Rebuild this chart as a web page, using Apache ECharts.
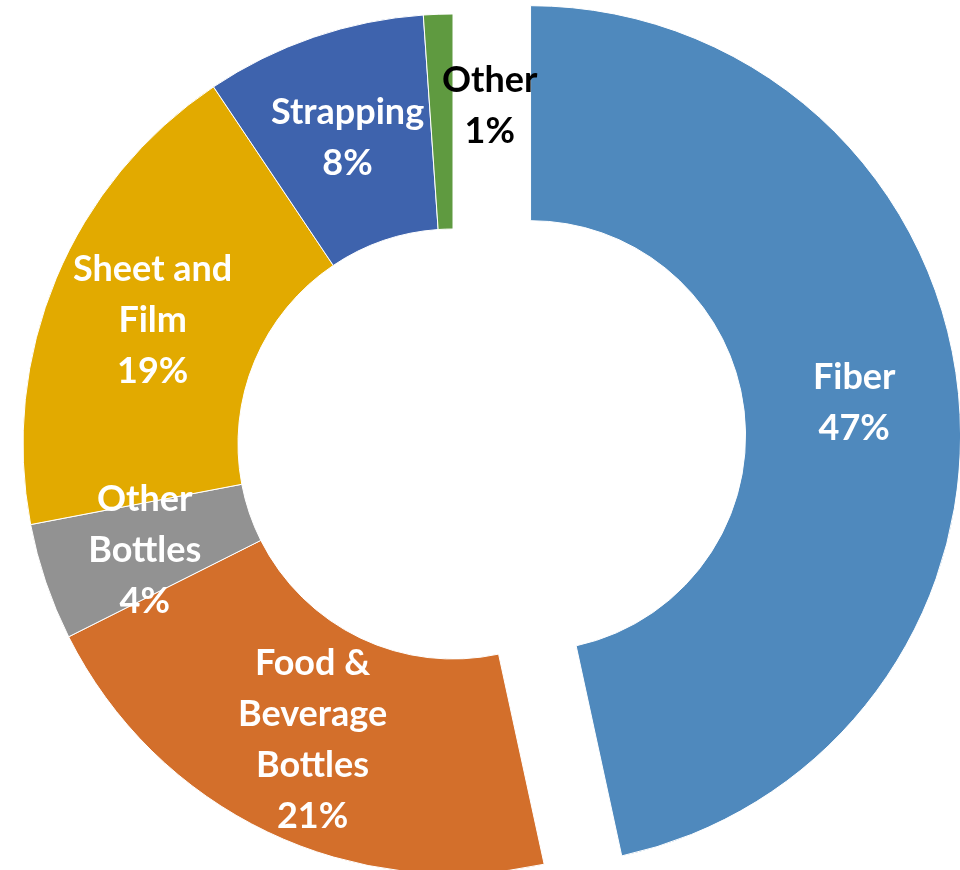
<!DOCTYPE html>
<html>
<head>
<meta charset="utf-8">
<script src="https://cdn.jsdelivr.net/npm/echarts@6/dist/echarts.min.js"></script>
<style>
html,body{margin:0;padding:0;background:#fff;}
#chart{width:960px;height:870px;}
</style>
</head>
<body>
<div id="chart"></div>
<script>
var categories = ['Fiber', 'Food & Beverage Bottles', 'Other Bottles', 'Sheet and Film', 'Strapping', 'Other'];
var labelLines = ['Fiber', 'Food &\nBeverage\nBottles', 'Other\nBottles', 'Sheet and\nFilm', 'Strapping', 'Other'];
var values = [46.6, 21.0, 4.4, 18.6, 8.3, 1.1];
var colors = ['#4F89BD', '#D36F2B', '#929292', '#E2AA00', '#3E63AD', '#5F9A40'];

var chart = echarts.init(document.getElementById('chart'), null, {renderer: 'canvas'});
var data = categories.map(function (c, i) {
  var item = {
    name: c,
    value: values[i],
    itemStyle: {color: colors[i]}
  };
  if (i === 0) item.selected = true;
  if (i === 5) item.label = {color: '#000000'};
  return item;
});

chart.setOption({
  animation: false,
  series: [{
    type: 'pie',
    center: [453, 444],
    radius: [215, 430],
    startAngle: 90,
    clockwise: true,
    selectedMode: 'single',
    selectedOffset: 78,
    avoidLabelOverlap: false,
    percentPrecision: 0,
    itemStyle: {borderColor: '#ffffff', borderWidth: 1},
    emphasis: {disabled: true},
    label: {
      show: true,
      position: 'inside',
      color: '#ffffff',
      fontFamily: 'Lato',
      fontWeight: 'bold',
      fontSize: 36,
      lineHeight: 51,
      align: 'center',
      formatter: function (p) {
        return labelLines[p.dataIndex] + '\n' + Math.round(p.percent) + '%';
      }
    },
    labelLine: {show: false},
    labelLayout: function (p) {
      if (p.dataIndex === 5) return {dx: 48, dy: -13};
      return {dy: 2};
    },
    data: data
  }]
});
</script>
</body>
</html>
